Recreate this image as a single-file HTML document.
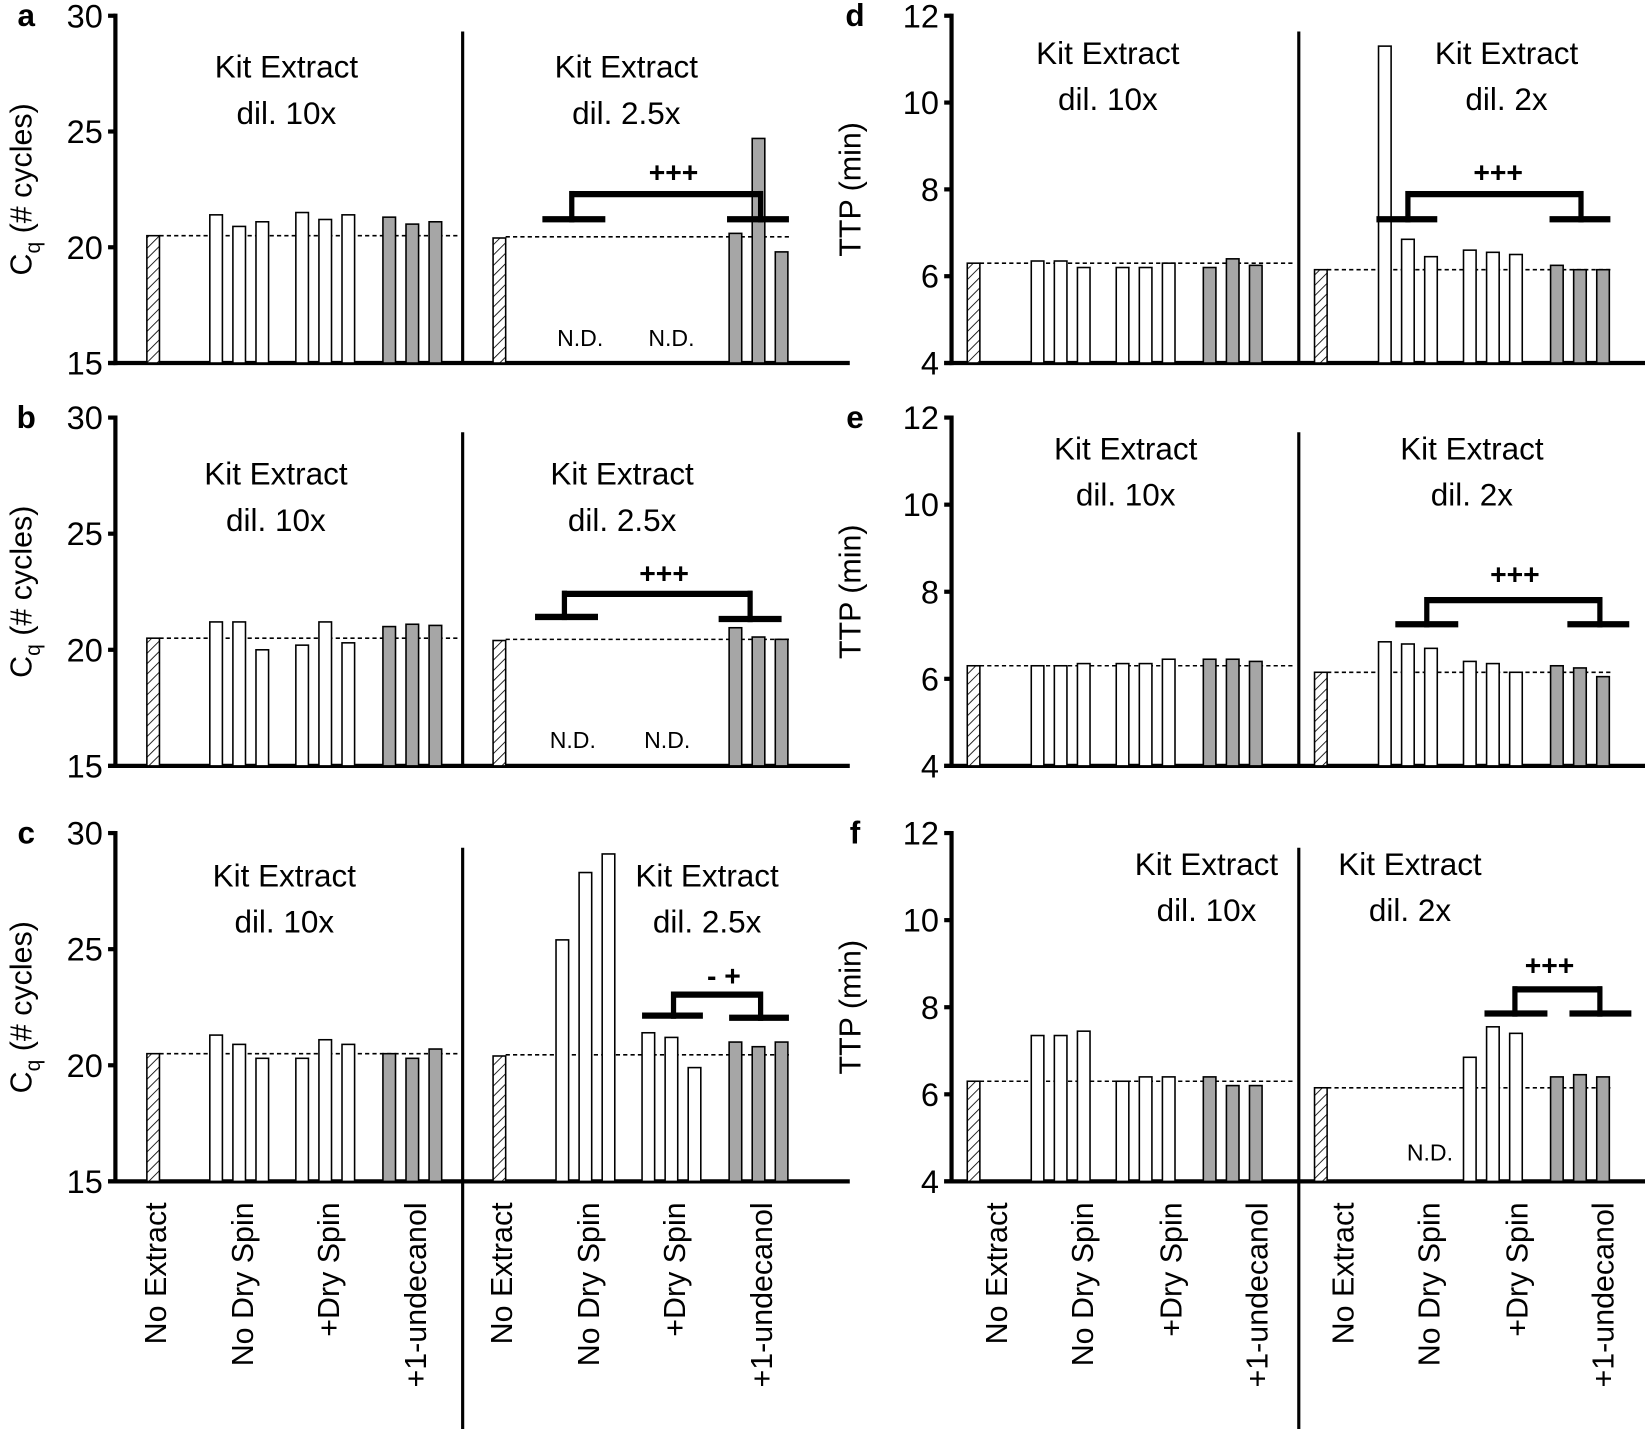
<!DOCTYPE html>
<html><head><meta charset="utf-8"><style>html,body{margin:0;padding:0;background:#fff}svg{display:block}text{font-family:"Liberation Sans",sans-serif}</style></head>
<body>
<svg id="s" xmlns="http://www.w3.org/2000/svg" width="1645" height="1429" viewBox="0 0 1568 1362" preserveAspectRatio="none">
<defs><pattern id="h" patternUnits="userSpaceOnUse" width="7" height="7" patternTransform="rotate(45)"><rect width="7" height="7" fill="#fff"/><line x1="0" y1="0" x2="0" y2="7" stroke="#000" stroke-width="1.6"/></pattern></defs>
</svg>
<script>
const s=document.getElementById('s');let o='';
function L(x1,y1,x2,y2,w,d){o+=`<line x1="${x1}" y1="${y1}" x2="${x2}" y2="${y2}" stroke="#000" stroke-width="${w}"${d?' stroke-dasharray="4,3"':''}/>`;}
function T(x,y,t,sz,a,extra){o+=`<text x="${x}" y="${y}" font-size="${sz}" text-anchor="${a||'middle'}" ${extra||''}>${t}</text>`;}
function panel(P){
 const ax=P.ax,top=P.top,bot=P.bot,v0=P.v0,v1=P.v1;
 const Y=v=>bot-(v-v0)/(v1-v0)*(bot-top);
 L(ax,top-2,ax,bot+2,4);L(ax-7,bot,P.xend,bot,4);
 P.ticks.forEach((t,i)=>{const y=top+i*(bot-top)/(P.ticks.length-1);L(ax-7,y,ax,y,4);T(ax-12,y+11,t,31,'end');});
 L(P.div,P.divTop,P.div,P.divBot,3);
 T(P.lx,top+10,P.letter,30,'middle','font-weight="bold"');
 o+=`<text font-size="29" text-anchor="middle" transform="translate(${P.yl},${(top+bot)/2}) rotate(-90)">${P.ylab}</text>`;
 P.halves.forEach((H,hi)=>{
  const base=P.pos.map(p=>p+hi*P.off);
  const hv=H.vals[0];o+=`<rect x="${base[0]}" y="${Y(hv)}" width="12" height="${bot-Y(hv)}" fill="url(#h)" stroke="#000" stroke-width="1.5"/>`;
  L(base[0]+12,Y(H.dash),P.dashEnd[hi],Y(H.dash),1.5,true);
  for(let g=0;g<3;g++)for(let k=0;k<3;k++){const v=H.vals[1+g*3+k];if(v==null)continue;const x=base[1+g]+k*22;
   o+=`<rect x="${x}" y="${Y(v)}" width="12" height="${bot-Y(v)}" fill="${g==2?'#a6a6a6':'#fff'}" stroke="#000" stroke-width="1.5"/>`;}
  T(H.tx,H.ty,'Kit Extract',30);T(H.tx,H.ty+44,H.dil,30);
 });
 (P.nd||[]).forEach(n=>T(n[0],n[1],'N.D.',22));
 const b=P.br;if(b){L(b[0],b[4],b[1],b[4],6);L(b[2],b[4]+3,b[2],b[5]-3,5);L(b[2]-2,b[5],b[3]+2,b[5],6);L(b[3],b[5]-3,b[3],b[6]+3,5);L(b[7],b[6],b[8],b[6],6);T(b[9],b[10],b[11],27,'middle','font-weight="bold"');}
 if(P.xl){const labs=['No Extract','No Dry Spin','+Dry Spin','+1-undecanol'];
  for(let h=0;h<2;h++)labs.forEach((t,i)=>{const x=P.xl[i]+h*P.xoff;o+=`<text font-size="29" text-anchor="end" transform="translate(${x},${bot+20}) rotate(-90)">${t}</text>`;});}
}
const L1={ax:110,v0:15,v1:30,ticks:['30','25','20','15'],xend:810,div:441,lx:25,yl:30,ylab:'C<tspan font-size="20" dy="8">q</tspan><tspan dy="-8"> (# cycles)</tspan>',pos:[140,200,282,365],off:330,dashEnd:[438,752]};
const R1={ax:907,v0:4,v1:12,ticks:['12','10','8','6','4'],xend:1568,div:1238,lx:815,yl:820,ylab:'TTP (min)',pos:[922,983,1064,1147],off:331,dashEnd:[1235,1535]};
panel(Object.assign({},L1,{letter:'a',top:15,bot:346,divTop:30,divBot:346,
 halves:[{vals:[20.5,21.4,20.9,21.1,21.5,21.2,21.4,21.3,21.0,21.1],dash:20.5,tx:273,ty:74,dil:'dil. 10x'},
 {vals:[20.4,null,null,null,null,null,null,20.6,24.7,19.8],dash:20.45,tx:597,ty:74,dil:'dil. 2.5x'}],
 nd:[[553,330],[640,330]],br:[517,577,545,725,209,185,209,693,752,642,174,'+++']}));
panel(Object.assign({},L1,{letter:'b',top:398,bot:730,divTop:412,divBot:730,
 halves:[{vals:[20.5,21.2,21.2,20.0,20.2,21.2,20.3,21.0,21.1,21.05],dash:20.5,tx:263,ty:462,dil:'dil. 10x'},
 {vals:[20.4,null,null,null,null,null,null,20.95,20.55,20.45],dash:20.45,tx:593,ty:462,dil:'dil. 2.5x'}],
 nd:[[546,713],[636,713]],br:[510,570,538,715,588,566,590,685,745,633,556,'+++']}));
panel(Object.assign({},L1,{letter:'c',top:794,bot:1126,divTop:808,divBot:1362,
 halves:[{vals:[20.5,21.3,20.9,20.3,20.3,21.1,20.9,20.5,20.3,20.7],dash:20.5,tx:271,ty:845,dil:'dil. 10x'},
 {vals:[20.4,25.4,28.3,29.1,21.4,21.2,19.9,21.0,20.8,21.0],dash:20.45,tx:674,ty:845,dil:'dil. 2.5x'}],
 br:[612,670,642,725,968,948,970,695,752,690,940,'- +'],xl:[158,241,323,406],xoff:330}));
panel(Object.assign({},R1,{letter:'d',top:15,bot:346,divTop:30,divBot:346,
 halves:[{vals:[6.3,6.35,6.35,6.2,6.2,6.2,6.3,6.2,6.4,6.25],dash:6.3,tx:1056,ty:61,dil:'dil. 10x'},
 {vals:[6.15,11.3,6.85,6.45,6.6,6.55,6.5,6.25,6.15,6.15],dash:6.15,tx:1436,ty:61,dil:'dil. 2x'}],
 br:[1312,1370,1342,1507,209,185,209,1477,1535,1428,174,'+++']}));
panel(Object.assign({},R1,{letter:'e',top:398,bot:730,divTop:412,divBot:730,
 halves:[{vals:[6.3,6.3,6.3,6.35,6.35,6.35,6.45,6.45,6.45,6.4],dash:6.3,tx:1073,ty:438,dil:'dil. 10x'},
 {vals:[6.15,6.85,6.8,6.7,6.4,6.35,6.15,6.3,6.25,6.05],dash:6.15,tx:1403,ty:438,dil:'dil. 2x'}],
 br:[1330,1390,1360,1525,595,572,595,1494,1553,1444,557,'+++']}));
panel(Object.assign({},R1,{letter:'f',top:794,bot:1126,divTop:808,divBot:1362,
 halves:[{vals:[6.3,7.35,7.35,7.45,6.3,6.4,6.4,6.4,6.2,6.2],dash:6.3,tx:1150,ty:834,dil:'dil. 10x'},
 {vals:[6.15,null,null,null,6.85,7.55,7.4,6.4,6.45,6.4],dash:6.15,tx:1344,ty:834,dil:'dil. 2x'}],
 nd:[[1363,1106]],br:[1415,1475,1444,1525,966,943,966,1496,1555,1477,930,'+++'],xl:[960,1042,1126,1208],xoff:330}));
s.insertAdjacentHTML('beforeend',o);
</script>
</body></html>
